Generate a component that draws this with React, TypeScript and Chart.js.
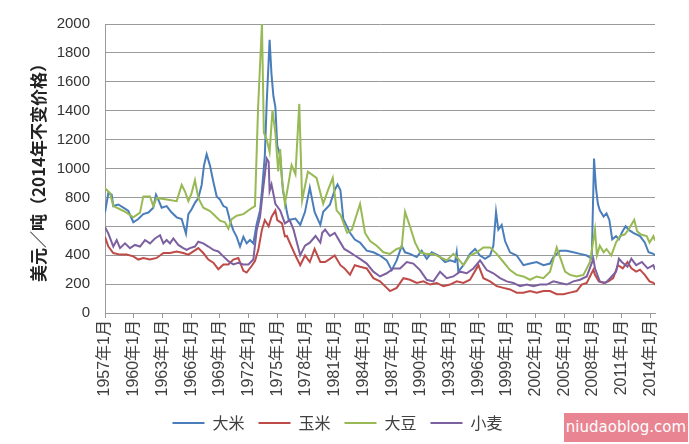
import React, { useEffect, useRef } from 'react';
import { Chart, registerables } from 'chart.js';

Chart.register(...registerables);

const seriesNames = ['大米', '玉米', '大豆', '小麦'];
const seriesColors = ['#4a7ebb', '#be4b48', '#98b954', '#7d60a0'];
const yAxisTitle = '美元／吨（2014年不变价格）';
const xTickYears = [1957, 1960, 1963, 1966, 1969, 1972, 1975, 1978, 1981, 1984, 1987, 1990, 1993, 1996, 1999, 2002, 2005, 2008, 2011, 2014];
const xStart = 1957;
const xEnd = 2014.47;
const yMax = 2000;
const yStep = 200;

// [decimal year, USD per tonne, 2014 constant prices]
const rice: [number, number][] = [
  [1957.0, 695], [1957.35, 830], [1957.7, 819], [1957.87, 740], [1958.39, 751], [1958.92, 729], [1959.44, 706], [1959.96, 628],
  [1960.48, 650], [1961.0, 684], [1961.53, 695], [1962.05, 729], [1962.33, 819], [1962.57, 785], [1962.92, 729], [1963.44, 740],
  [1963.97, 695], [1964.49, 662], [1965.01, 650], [1965.46, 550], [1965.71, 684], [1966.05, 718], [1966.4, 762], [1966.75, 796],
  [1967.1, 886], [1967.34, 1020], [1967.62, 1099], [1967.97, 1020], [1968.32, 908], [1968.67, 807], [1969.01, 785], [1969.37, 740],
  [1969.71, 729], [1970.06, 639], [1970.41, 572], [1970.76, 527], [1971.11, 460], [1971.46, 527], [1971.8, 482], [1972.15, 505],
  [1972.5, 482], [1972.85, 617], [1973.2, 710], [1973.4, 845], [1973.7, 1090], [1973.9, 1460], [1974.2, 1890], [1974.4, 1650],
  [1974.6, 1500], [1974.8, 1427], [1975.0, 1159], [1975.3, 1090], [1975.6, 845], [1975.8, 780], [1976.0, 700], [1976.2, 643],
  [1976.9, 653], [1977.4, 610], [1977.9, 700], [1978.4, 868], [1978.9, 700], [1979.5, 610], [1979.8, 700], [1980.5, 750],
  [1981.0, 850], [1981.3, 890], [1981.6, 850], [1981.9, 650], [1982.6, 555], [1983.1, 508], [1983.65, 487], [1984.35, 431],
  [1985.04, 420], [1985.74, 398], [1986.44, 364], [1986.96, 297], [1987.48, 364], [1988.0, 465], [1988.35, 420], [1988.87, 409],
  [1989.57, 387], [1990.09, 431], [1990.62, 375], [1991.14, 420], [1991.84, 398], [1992.53, 353], [1993.05, 364], [1993.58, 353],
  [1993.75, 420], [1993.92, 286], [1994.45, 331], [1995.14, 409], [1995.67, 443], [1996.19, 398], [1996.71, 375], [1997.23, 398],
  [1997.58, 465], [1997.86, 700], [1998.1, 577], [1998.45, 610], [1998.8, 498], [1999.32, 420], [2000.02, 398], [2000.72, 331],
  [2001.41, 342], [2002.11, 353], [2002.81, 331], [2003.5, 342], [2003.85, 387], [2004.55, 431], [2005.24, 431], [2005.94, 420],
  [2006.64, 409], [2007.34, 398], [2007.86, 375], [2008.1, 1069], [2008.3, 868], [2008.5, 756], [2008.7, 711], [2009.1, 667],
  [2009.4, 689], [2009.7, 644], [2010.0, 510], [2010.4, 532], [2010.7, 510], [2011.0, 555], [2011.4, 600], [2011.7, 577],
  [2012.2, 555], [2012.9, 532], [2013.4, 488], [2013.8, 420], [2014.3, 409], [2014.47, 400],
];

const corn: [number, number][] = [
  [1957.0, 527], [1957.35, 460], [1957.87, 415], [1958.57, 404], [1959.26, 404], [1959.96, 392], [1960.48, 370], [1961.0, 381],
  [1961.7, 370], [1962.4, 381], [1963.1, 415], [1963.79, 415], [1964.49, 426], [1965.18, 415], [1965.71, 404], [1966.23, 426],
  [1966.75, 449], [1967.27, 415], [1967.8, 370], [1968.32, 348], [1968.84, 303], [1969.37, 336], [1969.89, 336], [1970.41, 370],
  [1970.93, 381], [1971.46, 292], [1971.8, 280], [1972.32, 325], [1972.67, 359], [1973.02, 437], [1973.4, 577], [1973.7, 643],
  [1974.1, 600], [1974.4, 665], [1974.8, 710], [1975.0, 643], [1975.5, 620], [1975.8, 530], [1976.0, 533], [1976.3, 487],
  [1976.9, 398], [1977.4, 331], [1977.9, 398], [1978.4, 353], [1978.9, 443], [1979.5, 353], [1980.0, 353], [1980.5, 375],
  [1981.0, 398], [1981.6, 331], [1982.0, 310], [1982.6, 265], [1983.1, 331], [1983.65, 320], [1984.35, 308], [1985.04, 241],
  [1985.74, 219], [1986.44, 174], [1986.78, 152], [1987.48, 174], [1988.18, 241], [1988.87, 230], [1989.57, 208], [1990.27, 219],
  [1990.96, 197], [1991.66, 208], [1992.36, 186], [1993.05, 197], [1993.75, 219], [1994.45, 208], [1995.14, 230], [1996.02, 331],
  [1996.54, 241], [1997.23, 219], [1997.93, 186], [1998.63, 174], [1999.32, 163], [2000.02, 141], [2000.72, 141], [2001.41, 152],
  [2002.11, 141], [2002.81, 152], [2003.5, 152], [2004.2, 130], [2004.9, 130], [2005.59, 141], [2006.29, 152], [2006.81, 197],
  [2007.34, 208], [2008.03, 300], [2008.2, 264], [2008.6, 219], [2009.1, 208], [2009.6, 219], [2010.1, 242], [2010.6, 331],
  [2011.1, 309], [2011.6, 353], [2012.0, 309], [2012.5, 286], [2012.9, 300], [2013.4, 264], [2013.9, 219], [2014.3, 208],
  [2014.47, 195],
];

const soybean: [number, number][] = [
  [1957.0, 863], [1957.52, 830], [1957.87, 740], [1958.57, 718], [1959.26, 695], [1959.96, 662], [1960.66, 695], [1961.0, 807],
  [1961.7, 807], [1962.05, 740], [1962.4, 796], [1963.44, 785], [1964.49, 774], [1965.01, 886], [1965.36, 841], [1965.71, 774],
  [1966.05, 830], [1966.4, 920], [1966.75, 796], [1967.27, 729], [1967.97, 706], [1968.49, 673], [1969.01, 639], [1969.54, 628],
  [1969.89, 583], [1970.24, 650], [1970.76, 673], [1971.46, 684], [1972.15, 718], [1972.67, 740], [1973.0, 1427], [1973.4, 2000],
  [1973.6, 1247], [1973.9, 1200], [1974.2, 1114], [1974.5, 1404], [1974.8, 1247], [1975.1, 980], [1975.3, 1135], [1975.5, 913],
  [1975.8, 756], [1976.1, 868], [1976.5, 1024], [1976.9, 960], [1977.3, 1447], [1977.6, 780], [1978.2, 978], [1979.1, 935],
  [1979.8, 756], [1980.3, 850], [1980.8, 935], [1981.2, 710], [1981.6, 680], [1982.3, 555], [1982.8, 577], [1983.65, 755],
  [1984.17, 554], [1984.7, 498], [1985.39, 465], [1986.09, 420], [1986.78, 409], [1987.48, 443], [1988.0, 454], [1988.35, 700],
  [1988.87, 599], [1989.4, 487], [1989.92, 420], [1990.62, 409], [1991.31, 409], [1992.01, 387], [1992.71, 364], [1993.4, 409],
  [1993.92, 375], [1994.45, 331], [1995.14, 398], [1995.84, 420], [1996.54, 454], [1997.23, 454], [1997.93, 409], [1998.63, 353],
  [1999.32, 297], [2000.02, 264], [2000.72, 253], [2001.41, 230], [2002.11, 253], [2002.81, 241], [2003.5, 286], [2004.2, 454],
  [2004.55, 387], [2005.07, 286], [2005.59, 264], [2006.29, 253], [2006.99, 264], [2007.68, 353], [2008.2, 577], [2008.4, 398],
  [2008.7, 465], [2009.1, 420], [2009.4, 443], [2009.9, 398], [2010.4, 488], [2010.8, 532], [2011.3, 543], [2011.7, 577],
  [2012.3, 644], [2012.6, 566], [2013.0, 543], [2013.6, 532], [2013.9, 488], [2014.3, 532], [2014.47, 500],
];

const wheat: [number, number][] = [
  [1957.0, 594], [1957.35, 550], [1957.87, 460], [1958.22, 505], [1958.57, 449], [1959.09, 482], [1959.61, 449], [1960.13, 471],
  [1960.66, 460], [1961.18, 505], [1961.7, 482], [1962.22, 516], [1962.75, 538], [1963.1, 482], [1963.44, 505], [1963.79, 482],
  [1964.14, 516], [1964.66, 471], [1965.18, 449], [1965.53, 437], [1965.88, 449], [1966.4, 460], [1966.75, 493], [1967.27, 482],
  [1967.8, 460], [1968.32, 437], [1968.84, 426], [1969.37, 392], [1969.89, 359], [1970.41, 336], [1970.93, 348], [1971.46, 336],
  [1971.98, 336], [1972.5, 370], [1972.85, 572], [1973.2, 665], [1973.5, 845], [1973.9, 1069], [1974.1, 1047], [1974.2, 845],
  [1974.4, 890], [1974.8, 756], [1975.3, 710], [1975.8, 620], [1976.3, 643], [1976.7, 577], [1977.4, 400], [1977.9, 466],
  [1978.4, 487], [1979.0, 533], [1979.5, 487], [1979.7, 555], [1980.0, 577], [1980.5, 533], [1981.0, 555], [1981.6, 487],
  [1982.0, 443], [1982.6, 420], [1983.1, 398], [1983.65, 375], [1984.35, 342], [1985.04, 286], [1985.74, 253], [1986.44, 275],
  [1987.13, 308], [1987.83, 308], [1988.53, 353], [1989.22, 342], [1989.92, 297], [1990.62, 230], [1991.31, 219], [1992.01, 286],
  [1992.71, 241], [1993.4, 253], [1994.1, 286], [1994.8, 275], [1995.49, 308], [1996.19, 364], [1996.89, 297], [1997.58, 275],
  [1998.28, 241], [1998.98, 219], [1999.67, 208], [2000.37, 186], [2001.07, 197], [2001.76, 186], [2002.46, 197], [2003.16, 197],
  [2003.85, 219], [2004.55, 208], [2005.24, 197], [2005.94, 219], [2006.64, 230], [2007.34, 253], [2008.03, 375], [2008.2, 309],
  [2008.7, 219], [2009.3, 208], [2009.8, 242], [2010.4, 286], [2010.7, 376], [2011.0, 353], [2011.6, 320], [2012.0, 376],
  [2012.5, 331], [2013.1, 353], [2013.7, 309], [2014.3, 331], [2014.47, 300],
];

const seriesData = [rice, corn, soybean, wheat];
const drawOrder = [4, 3, 2, 1];

const FONT = "'Liberation Sans', 'Noto Sans CJK SC', sans-serif";
const CJK = "'Noto Sans CJK SC', 'Liberation Sans', sans-serif";

export default function App() {
  const canvasRef = useRef<HTMLCanvasElement | null>(null);

  useEffect(() => {
    const canvas = canvasRef.current;
    if (!canvas) return;
    const chart = new Chart(canvas, {
      type: 'line',
      data: {
        datasets: seriesNames.map((name, i) => ({
          label: name,
          data: seriesData[i].map(([x, y]) => ({ x, y })),
          borderColor: seriesColors[i],
          backgroundColor: seriesColors[i],
          borderWidth: 2,
          pointRadius: 0,
          tension: 0,
          fill: false,
          order: drawOrder[i],
        })),
      },
      options: {
        responsive: false,
        animation: false,
        layout: { padding: { top: 14, right: 34, bottom: 3, left: 20 } },
        plugins: {
          tooltip: { enabled: false },
          legend: {
            position: 'bottom',
            labels: {
              boxWidth: 32,
              boxHeight: 2,
              padding: 14,
              color: '#404040',
              font: { family: CJK, size: 16 },
              generateLabels: (ch: any) =>
                ch.data.datasets.map((ds: any, i: number) => ({
                  text: ds.label,
                  fillStyle: ds.borderColor,
                  strokeStyle: ds.borderColor,
                  lineWidth: 0,
                  hidden: false,
                  datasetIndex: i,
                  fontColor: '#404040',
                })),
            },
          },
        },
        scales: {
          x: {
            type: 'linear',
            min: xStart,
            max: xEnd,
            afterBuildTicks: (axis: any) => {
              axis.ticks = xTickYears.map((v) => ({ value: v }));
            },
            afterFit: (scale: any) => {
              scale.height = 88;
            },
            ticks: {
              autoSkip: false,
              maxRotation: 90,
              minRotation: 90,
              padding: 2,
              color: '#404040',
              font: { family: FONT, size: 16 },
              callback: (v: any) => `${v}年1月`,
            },
            grid: { drawOnChartArea: false, drawTicks: true, tickLength: 5, color: '#9a9a9a' },
            border: { display: true, color: '#9a9a9a' },
          },
          y: {
            min: 0,
            max: yMax,
            ticks: {
              stepSize: yStep,
              padding: 15,
              color: '#333333',
              font: { family: FONT, size: 15 },
              callback: (v: any) => String(v),
            },
            afterFit: (scale: any) => {
              scale.width = 85;
            },
            grid: { color: '#9a9a9a', drawTicks: false },
            border: { display: true, color: '#9a9a9a' },
            title: {
              display: true,
              text: yAxisTitle,
              color: '#222222',
              font: { family: CJK, size: 17, weight: 'bold' },
              padding: { top: 8, bottom: 0 },
            },
          },
        },
      },
    } as any);
    return () => chart.destroy();
  }, []);

  return (
    <div style={{ position: 'absolute', left: 0, top: 0, width: 689, height: 444, background: '#ffffff', overflow: 'hidden' }}>
      <canvas ref={canvasRef} width={689} height={444} style={{ display: 'block' }} />
      <div
        style={{
          position: 'absolute',
          left: 564,
          top: 413,
          width: 124,
          height: 29,
          background: '#e98592',
          color: '#ffffff',
          fontFamily: "'DejaVu Sans', sans-serif",
          fontSize: 15,
          lineHeight: '29px',
          textAlign: 'center',
        }}
      >
        niudaoblog.com
      </div>
    </div>
  );
}
